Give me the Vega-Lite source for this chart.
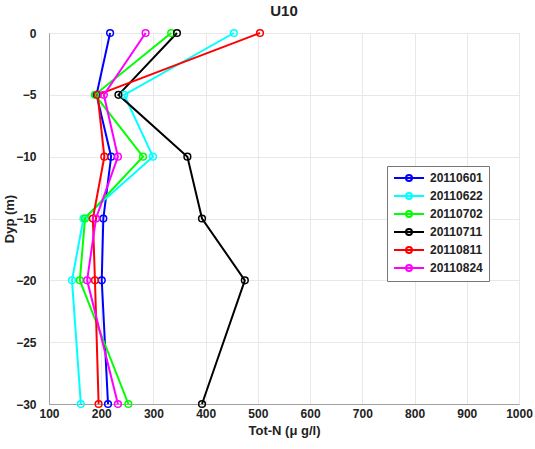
{
  "$schema": "https://vega.github.io/schema/vega-lite/v6.json",
  "autosize": "none",
  "width": 470,
  "height": 371,
  "padding": {"left": 49, "top": 33, "right": 16, "bottom": 45},
  "background": "white",
  "title": {"text": "U10", "fontSize": 15, "font": "Liberation Sans", "fontWeight": "bold", "color": "#222", "offset": 8},
  "config": {
    "view": {"stroke": "#a0a0a0", "strokeWidth": 1},
    "font": "Liberation Sans"
  },
  "data": {"values": [
    {"date": "20110601", "depth": 0, "n": 217},
    {"date": "20110601", "depth": -5, "n": 191},
    {"date": "20110601", "depth": -10, "n": 219},
    {"date": "20110601", "depth": -15, "n": 204},
    {"date": "20110601", "depth": -20, "n": 201},
    {"date": "20110601", "depth": -30, "n": 213},
    {"date": "20110622", "depth": 0, "n": 454},
    {"date": "20110622", "depth": -5, "n": 244},
    {"date": "20110622", "depth": -10, "n": 299},
    {"date": "20110622", "depth": -15, "n": 166},
    {"date": "20110622", "depth": -20, "n": 144},
    {"date": "20110622", "depth": -30, "n": 161},
    {"date": "20110702", "depth": 0, "n": 334},
    {"date": "20110702", "depth": -5, "n": 188},
    {"date": "20110702", "depth": -10, "n": 280},
    {"date": "20110702", "depth": -15, "n": 169},
    {"date": "20110702", "depth": -20, "n": 159},
    {"date": "20110702", "depth": -30, "n": 252},
    {"date": "20110711", "depth": 0, "n": 345},
    {"date": "20110711", "depth": -5, "n": 233},
    {"date": "20110711", "depth": -10, "n": 365},
    {"date": "20110711", "depth": -15, "n": 393},
    {"date": "20110711", "depth": -20, "n": 475},
    {"date": "20110711", "depth": -30, "n": 393},
    {"date": "20110811", "depth": 0, "n": 504},
    {"date": "20110811", "depth": -5, "n": 193},
    {"date": "20110811", "depth": -10, "n": 206},
    {"date": "20110811", "depth": -15, "n": 184},
    {"date": "20110811", "depth": -20, "n": 188},
    {"date": "20110811", "depth": -30, "n": 195},
    {"date": "20110824", "depth": 0, "n": 285},
    {"date": "20110824", "depth": -5, "n": 205},
    {"date": "20110824", "depth": -10, "n": 232},
    {"date": "20110824", "depth": -15, "n": 190},
    {"date": "20110824", "depth": -20, "n": 173},
    {"date": "20110824", "depth": -30, "n": 232}
  ]},
  "mark": {"type": "line", "strokeWidth": 2, "point": {"filled": false, "size": 45, "strokeWidth": 1.5}},
  "encoding": {
    "order": {"field": "depth", "type": "quantitative", "sort": "descending"},
    "x": {
      "field": "n", "type": "quantitative",
      "scale": {"domain": [100, 1000], "nice": false, "zero": false},
      "axis": {
        "title": "Tot-N (μ g/l)", "values": [100, 200, 300, 400, 500, 600, 700, 800, 900, 1000],
        "format": "d", "ticks": false, "labelPadding": 4,
        "labelFontSize": 12, "labelFontWeight": "bold", "labelColor": "#222",
        "titleFontSize": 13, "titleFontWeight": "bold", "titleColor": "#222", "titlePadding": 5,
        "domainColor": "#a0a0a0", "gridColor": "#e8e8e8", "labelFlush": false
      }
    },
    "y": {
      "field": "depth", "type": "quantitative",
      "scale": {"domain": [-30, 0], "nice": false, "zero": false},
      "axis": {
        "title": "Dyp (m)", "values": [0, -5, -10, -15, -20, -25, -30],
        "ticks": false, "labelPadding": 13,
        "labelFontSize": 12, "labelFontWeight": "bold", "labelColor": "#222",
        "titleFontSize": 13, "titleFontWeight": "bold", "titleColor": "#222",
        "titleX": -33, "titleBaseline": "bottom",
        "domainColor": "#a0a0a0", "gridColor": "#e8e8e8", "labelFlush": false
      }
    },
    "color": {
      "field": "date", "type": "nominal",
      "scale": {
        "domain": ["20110601", "20110622", "20110702", "20110711", "20110811", "20110824"],
        "range": ["#0000ff", "#00ffff", "#00ff00", "#000000", "#ff0000", "#ff00ff"]
      },
      "legend": {
        "title": null, "orient": "none", "legendX": 338, "legendY": 133,
        "padding": 6, "strokeColor": "#777", "fillColor": "white",
        "symbolType": "M-1,0H5M1.4,0A0.6,0.6 0 1,0 2.6,0A0.6,0.6 0 1,0 1.4,0",
        "symbolSize": 100, "symbolStrokeWidth": 2,
        "labelFontSize": 12, "labelFontWeight": "bold", "labelColor": "#222",
        "rowPadding": 4, "labelOffset": 25
      }
    }
  }
}
